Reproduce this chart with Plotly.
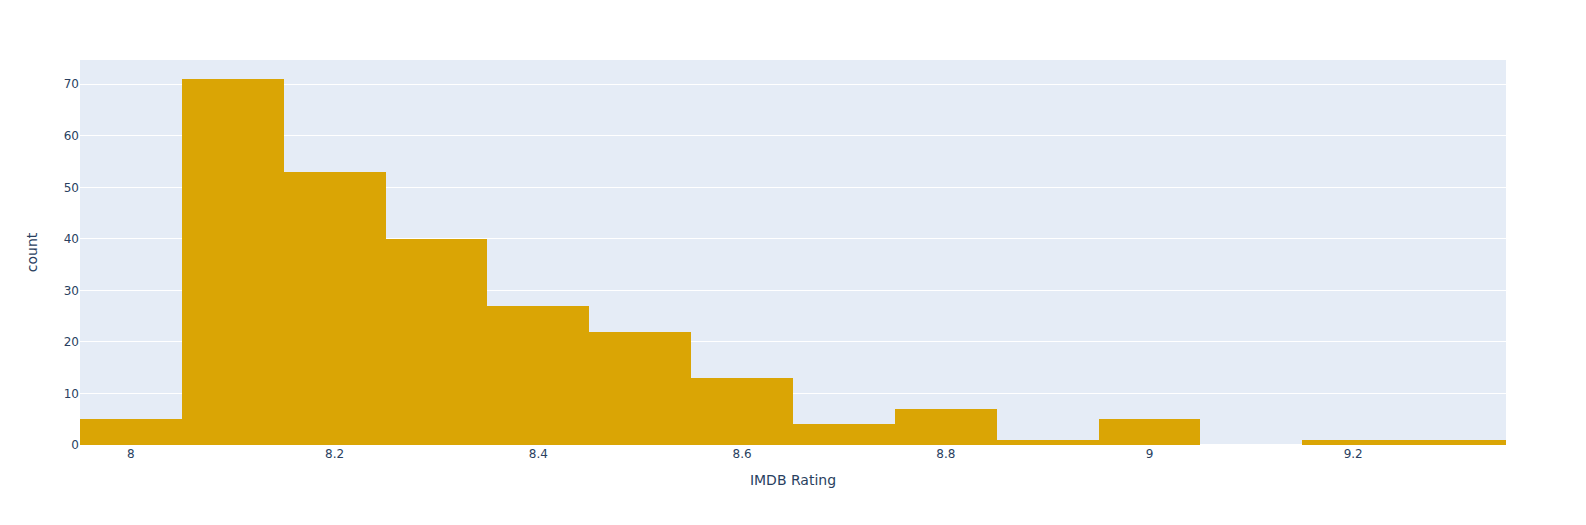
import plotly.graph_objects as go

bin_centers = [8.0, 8.1, 8.2, 8.3, 8.4, 8.5, 8.6, 8.7, 8.8, 8.9, 9.0, 9.1, 9.2, 9.3]
counts = [5, 71, 53, 40, 27, 22, 13, 4, 7, 1, 5, 0, 1, 1]

fig = go.Figure(go.Bar(x=bin_centers, y=counts, width=0.1, marker=dict(color="#DAA505", line=dict(width=0))))
fig.update_layout(
    template="plotly",
    width=1578, height=517,
    margin=dict(l=72, r=80, t=52, b=80),
    bargap=0,
    font=dict(family="DejaVu Sans"),
    xaxis=dict(title="IMDB Rating", range=[7.95, 9.35]),
    yaxis=dict(title=dict(text="count", standoff=22), range=[0, 74.7]),
    showlegend=False,
)
fig.write_html("out.html")
